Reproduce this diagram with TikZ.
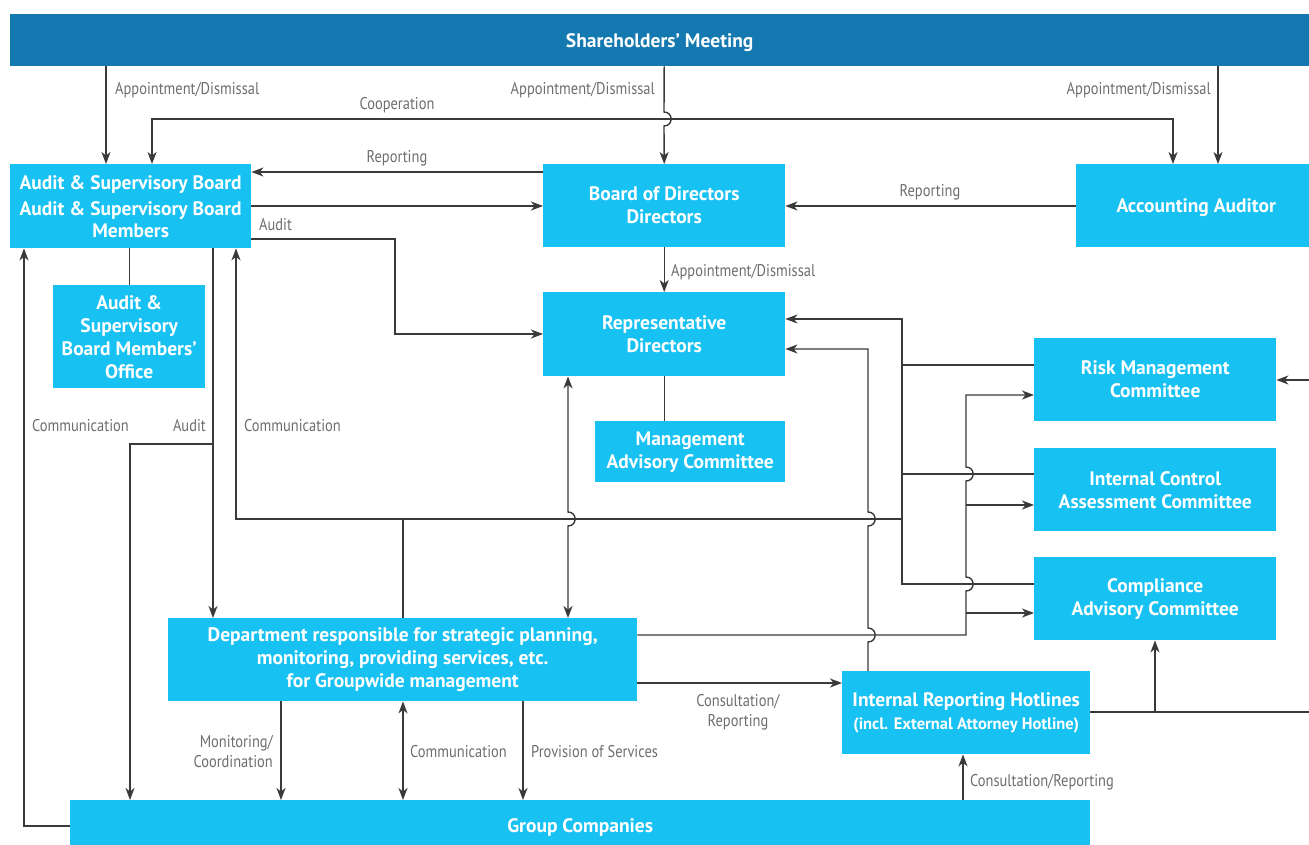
\documentclass[tikz,border=0pt]{standalone}
\usepackage{fontspec}
\setmainfont{PT Sans}
\newfontfamily\lblfont[FakeStretch=0.85]{PT Sans}
\newfontfamily\boxfont{PT Sans}
\usetikzlibrary{arrows.meta}
\definecolor{boxblue}{HTML}{17C1F2}
\definecolor{barblue}{HTML}{1479B0}
\definecolor{lncol}{HTML}{3A3A3A}
\definecolor{lblcol}{HTML}{6D6E71}

% vertical line segment with a half-circle hop over a crossing line
\newcommand{\hopdn}[2]{-- (#1,#2-7) .. controls (#1+9.5,#2-7) and (#1+9.5,#2+7) .. (#1,#2+7)}
\newcommand{\hopup}[2]{-- (#1,#2+7) .. controls (#1+9.5,#2+7) and (#1+9.5,#2-7) .. (#1,#2-7)}
% lower a one-line box text without changing the box size
\newcommand{\lowertext}[2]{\raisebox{-#1}[\height][\depth]{#2}}

\tikzset{
  box/.style={fill=boxblue, text=white, align=center, inner sep=0pt, anchor=north west,
    font=\boxfont\bfseries\fontsize{19.5}{23}\selectfont},
  bar/.style={box, fill=barblue},
  conn/.style={draw=lncol, line width=1.4pt},
  tip/.style={-{Stealth[length=12pt,width=9pt,inset=3.5pt]}},
  both/.style={{Stealth[length=12pt,width=9pt,inset=3.5pt]}-{Stealth[length=12pt,width=9pt,inset=3.5pt]}},
  lbl/.style={text=lblcol, inner sep=0pt, yshift=-2pt, font=\lblfont\fontsize{17}{20}\selectfont}
}

\begin{document}
\begin{tikzpicture}[x=1pt,y=-1pt]
\useasboundingbox (0,0) rectangle (1309,845);
\fill[white] (0,0) rectangle (1309,845);

% ---------- boxes ----------
\node[bar, minimum width=1299pt, minimum height=52pt] (sh) at (10,14) {\lowertext{2pt}{Shareholders’ Meeting}};
\node[box, minimum width=241pt, minimum height=84pt] (asb) at (10,164)
  {Audit \& Supervisory Board\\[3pt]Audit \& Supervisory Board\\[-1pt]Members};
\node[box, minimum width=242pt, minimum height=83pt] (bod) at (543,164) {Board of Directors\\Directors};
\node[box, minimum width=233pt, minimum height=83pt] (acc) at (1076,164) {\lowertext{2pt}{\hspace*{7pt}Accounting Auditor}};
\node[box, minimum width=152pt, minimum height=103pt] (off) at (53,285)
  {Audit \&\\Supervisory\\Board Members’\\Office};
\node[box, minimum width=242pt, minimum height=84pt] (rep) at (543,292) {Representative\\Directors};
\node[box, minimum width=190pt, minimum height=61pt] (mac) at (595,421) {Management\\Advisory Committee};
\node[box, minimum width=242pt, minimum height=83pt] (risk) at (1034,338) {Risk Management\\Committee};
\node[box, minimum width=242pt, minimum height=83pt] (icac) at (1034,448) {Internal Control\\Assessment Committee};
\node[box, minimum width=242pt, minimum height=83pt] (cac) at (1034,557) {Compliance\\Advisory Committee};
\node[box, minimum width=469pt, minimum height=83pt] (dept) at (168,618)
  {Department responsible for strategic planning,\\monitoring, providing services, etc.\\for Groupwide management};
\node[box, minimum width=248pt, minimum height=83pt] (hot) at (842,671)
  {Internal Reporting Hotlines\\{\fontsize{16.5}{23}\selectfont (incl. External Attorney Hotline)}};
\node[box, minimum width=1020pt, minimum height=45pt] (grp) at (70,800) {\lowertext{5pt}{Group Companies}};

% ---------- connectors: top ----------
\draw[conn,tip] (sh.south -| 106,0) -- (asb.north -| 106,0);
\draw[conn,tip] (sh.south -| bod.north) \hopdn{664}{119} -- (bod.north);
\draw[conn,tip] (sh.south -| 1218,0) -- (acc.north -| 1218,0);
\draw[conn,both] (asb.north -| 152,0) -- (152,119) -- (1173,119) -- (acc.north -| 1173,0);

\draw[conn,tip] (bod.west |- 0,172) -- (asb.east |- 0,172);
\draw[conn,tip] (asb.east |- 0,206) -- (bod.west |- 0,206);
\draw[conn,tip] (asb.east |- 0,239) -- (395,239) -- (395,334) -- (rep.west |- 0,334);
\draw[conn,tip] (acc.west |- 0,206) -- (bod.east |- 0,206);
\draw[conn,tip] (bod.south) -- (rep.north);
\draw[conn] (asb.south -| off.north) -- (off.north);
\draw[conn] (rep.south) -- (rep.south |- mac.north);

% ---------- connectors: left side ----------
\draw[conn,tip] (grp.west |- 0,826) -- (24,826) -- (asb.south -| 24,0);
\draw[conn,tip] (asb.south -| 213,0) -- (dept.north -| 213,0);
\coordinate (aj) at (213,444);
\draw[conn,tip] (aj) -- (130,444) -- (grp.north -| 130,0);

\coordinate (cj) at (403,519);
\draw[conn,tip] (dept.north -| cj) -- (cj) -- (236,519) -- (asb.south -| 236,0);
\draw[conn] (cj) -- (902,519);
\draw[conn,both] (rep.south -| 568,0) \hopdn{568}{519} -- (dept.north -| 568,0);

% ---------- connectors: committees ----------
\coordinate (rb) at (902,319);
\draw[conn,tip] (risk.west |- 0,365) -- (902,365) -- (rb) -- (rep.east |- rb);
\draw[conn] (icac.west |- 0,474) -- (902,474);
\draw[conn] (cac.west |- 0,584) -- (902,584) -- (902,365);

\draw[conn,tip] (hot.north -| 868,0) \hopup{868}{635} \hopup{868}{519} -- (868,349) -- (rep.east |- 0,349);

\draw[conn,tip] (dept.east |- 0,635) -- (966,635) \hopup{966}{584} \hopup{966}{474} -- (966,395) -- (risk.west |- 0,395);
\coordinate (ib) at (966,505);
\coordinate (cb) at (966,613);
\draw[conn,tip] (ib) -- (icac.west |- ib);
\draw[conn,tip] (cb) -- (cac.west |- cb);

% ---------- connectors: bottom ----------
\draw[conn,tip] (dept.east |- 0,683) -- (hot.west |- 0,683);
\coordinate (re) at (1309,712);
\draw[conn] (hot.east |- re) -- (re);
\coordinate (hj) at (1155,712);
\draw[conn,tip] (hj) -- (cac.south -| hj);
\coordinate (rr) at (1309,380);
\draw[conn,tip] (rr) -- (risk.east |- rr);

\draw[conn,tip] (dept.south -| 281,0) -- (grp.north -| 281,0);
\draw[conn,both] (dept.south -| 403,0) -- (grp.north -| 403,0);
\draw[conn,tip] (dept.south -| 523,0) -- (grp.north -| 523,0);
\draw[conn,tip] (grp.north -| 963,0) -- (hot.south -| 963,0);

% ---------- labels ----------
\node[lbl,anchor=west] at (115,88) {Appointment/Dismissal};
\node[lbl,anchor=east] at (655,88) {Appointment/Dismissal};
\node[lbl,anchor=east] at (1211,88) {Appointment/Dismissal};
\node[lbl] at (397,103) {Cooperation};
\node[lbl] at (397,156) {Reporting};
\node[lbl,anchor=west] at (259,223) {Audit};
\node[lbl] at (930,190) {Reporting};
\node[lbl,anchor=west] at (671,270) {Appointment/Dismissal};
\node[lbl,anchor=west] at (32,424) {Communication};
\node[lbl,anchor=east] at (206,424) {Audit};
\node[lbl,anchor=west] at (244,424) {Communication};
\node[lbl,anchor=east,align=right] at (273,750) {Monitoring/\\Coordination};
\node[lbl,anchor=west] at (410,750) {Communication};
\node[lbl,anchor=west] at (531,750) {Provision of Services};
\node[lbl,align=center] at (738,710) {Consultation/\\Reporting};
\node[lbl,anchor=west] at (970,780) {Consultation/Reporting};
\end{tikzpicture}
\end{document}
